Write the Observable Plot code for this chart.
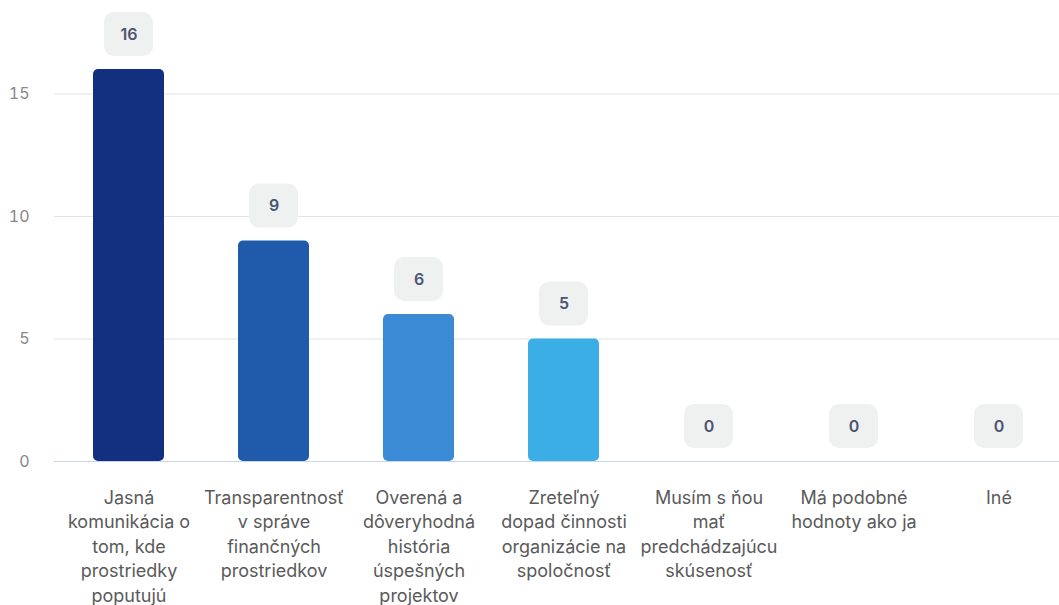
<!DOCTYPE html>
<html>
<head>
<meta charset="utf-8">
<script src="https://cdn.jsdelivr.net/npm/d3@7"></script>
<script src="https://cdn.jsdelivr.net/npm/@observablehq/plot@0.6"></script>
<style>
  html, body { margin: 0; padding: 0; background: #fff; overflow: hidden; }
  #chart svg { display: block; font-family: Inter, "Noto Sans", sans-serif; }
</style>
</head>
<body>
<div id="chart"></div>
<script>
const categories = [
  "Jasná komunikácia o tom, kde prostriedky poputujú",
  "Transparentnosť v správe finančných prostriedkov",
  "Overená a dôveryhodná história úspešných projektov",
  "Zreteľný dopad činnosti organizácie na spoločnosť",
  "Musím s ňou mať predchádzajúcu skúsenosť",
  "Má podobné hodnoty ako ja",
  "Iné"
];
const labels = [
  "Jasná\nkomunikácia o\ntom, kde\nprostriedky\npoputujú",
  "Transparentnosť\nv správe\nfinančných\nprostriedkov",
  "Overená a\ndôveryhodná\nhistória\núspešných\nprojektov",
  "Zreteľný\ndopad činnosti\norganizácie na\nspoločnosť",
  "Musím s ňou\nmať\npredchádzajúcu\nskúsenosť",
  "Má podobné\nhodnoty ako ja",
  "Iné"
];
const values = [16, 9, 6, 5, 0, 0, 0];
const colors = ["#122f80", "#1f5aab", "#3a8ad6", "#3aaee5", "#3aaee5", "#3aaee5", "#3aaee5"];
const yTicks = [0, 5, 10, 15];

const data = categories.map((c, i) => ({category: c, label: labels[i], value: values[i], color: colors[i]}));

const chart = Plot.plot({
  width: 1059,
  height: 605,
  marginLeft: 54,
  marginRight: 0,
  marginTop: 69,
  marginBottom: 144,
  style: {fontFamily: "Inter, 'Noto Sans', sans-serif", background: "#fff"},
  x: {domain: categories, paddingInner: 0.512, paddingOuter: 0.256, range: [54, 1073], axis: null},
  y: {domain: [0, 16], ticks: yTicks, label: null},
  marks: [
    Plot.ruleY(yTicks.filter(d => d > 0), {stroke: "#e3e3e3", strokeWidth: 1}),
    Plot.axisY({ticks: yTicks, tickSize: 0, tickPadding: 25, fontSize: 16, fill: "#888888", label: null}),
    Plot.barY(data, {x: "category", y: "value", fill: "color", rx: 5}),
    Plot.barY(data, {x: "category", y1: "value", y2: "value", insetTop: -57, insetBottom: 13, insetLeft: 11, insetRight: 11, rx: 10, fill: "#eff0f0"}),
    Plot.text(data, {x: "category", y: "value", dy: -35, text: d => String(d.value), fontSize: 16, fontWeight: 600, fill: "#4b5570"}),
    Plot.ruleY([0], {stroke: "#c8d4f0", strokeWidth: 1}),
    Plot.text(data, {x: "category", y: () => 0, text: "label", lineAnchor: "top", dy: 25, lineHeight: 1.36, fontSize: 18, fill: "#5a5a5a", textAnchor: "middle"})
  ]
});
document.getElementById("chart").appendChild(chart);
</script>
</body>
</html>
